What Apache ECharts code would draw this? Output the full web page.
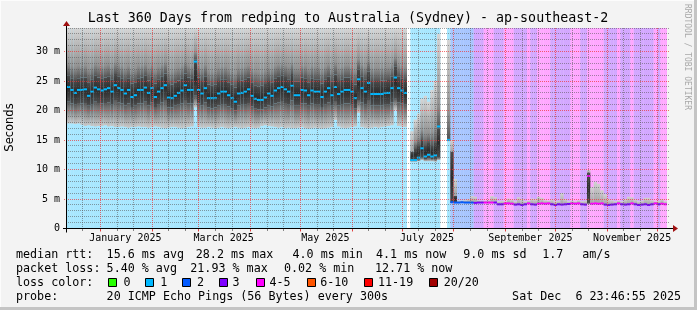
<!DOCTYPE html>
<html><head><meta charset="utf-8">
<script src="https://cdn.jsdelivr.net/npm/echarts@6/dist/echarts.min.js"></script>
<style>html,body{margin:0;padding:0;background:#f3f3f3}#c{width:697px;height:310px}</style>
</head><body><div id="c"></div>
<script>
// ================= DATA =================
// 180 bins of 2 days each, covering the 360 days ending Sat Dec 6 23:46:55 2025
const binLabels = Array.from({length: 180}, (_, i) => 'bin' + i);

// median RTT per bin (ms); null = no data
const medianRtt = [
24.0,23.5,23.0,23.5,23.5, 23.6,22.5,23.2,23.9,23.6, 23.4,23.6,23.8,23.2,24.3, 23.8,23.5,22.9,23.5,22.3,
22.6,23.5,23.5,23.9,23.0, 23.8,22.3,23.2,23.8,24.3, 22.2,22.1,22.5,23.0,23.4, 24.3,23.5,23.5,28.3,23.5,
22.9,23.8,22.1,22.1,22.1, 22.9,23.2,23.2,22.6,22.1, 21.5,22.9,23.0,23.2,23.6, 22.5,22.0,21.8,21.8,22.2,
22.9,22.5,23.4,23.8,24.0, 23.6,23.2,24.2,22.6,22.6, 23.5,23.4,22.6,23.4,23.2, 23.2,22.3,23.2,23.8,22.6,
24.0,22.8,23.2,23.5,23.5, 23.2,22.1,25.3,23.8,23.2, 24.7,22.8,22.8,22.8,22.8, 23.0,23.0,23.8,25.6,23.8,
23.4,23.0,
null,
11.6,11.6,12.0,13.6,12.2,12.5,12.2,12.4,17.3,
null,null,
15.0,
4.45,4.4,4.4,4.45,4.4, 4.4,4.4,4.35,4.4,4.4, 4.4,4.4,4.4,4.4,
4.1,4.1,4.25,4.25,4.2, 4.05,4.1,4.0,4.1,4.25, 4.1,4.05,4.2,4.25,4.2, 4.25,4.1,4.0,4.1,4.05,
4.1,4.15,4.25,4.2,4.25, 4.1,4.05,8.9,4.2,4.25, 4.2,4.25,4.05,4.0,4.05, 4.1,4.25,4.1,4.05,4.1,
4.25,4.1,4.0,4.05,4.1, 4.0,4.1,4.25,4.1,4.2, 4.1
];

// lost pings (of 20) per bin; 4 = "4-5" class; null = no data
const lossCount = [
1,1,1,1,1,1,1,1,1,1, 1,1,1,1,1,1,1,1,1,1, 1,1,1,1,1,1,1,1,1,1, 1,1,1,1,1,1,1,1,1,1,
1,1,1,1,1,1,1,1,1,1, 1,1,1,1,1,1,1,1,1,1, 1,1,1,1,1,1,1,1,1,1, 1,1,1,1,1,1,1,1,1,1,
1,1,1,1,1,1,1,1,1,1, 1,1,1,1,1,1,1,1,1,1, 1,1,
null,
1,1,1,1,1,1,1,1,1,
null,null,
1,
2,2,2,2,2,2,2, 3,3,3, 4,4,4, 3,3,3, 4,4,4, 3,3,3,3, 4, 3,3, 4,4,4,4, 3,3,3,3,3,3,
4,4,4, 3,3, 4,4,4,4,4, 3,3,3,3, 4, 3,3,3, 4, 3,3,3,3,3,3, 4, 3, 4,4
];

// smoke (spread of the 20 pings) per bin: bottom, lower dark edge, upper dark edge, top (ms)
const smokeMin = [
17.8,17.8,17.7,17.8,17.6, 17.4,17.5,17.4,17.3,17.4, 17.4,17.5,17.3,17.4,17.2, 17.2,17.3,17.2,17.1,17.2,
17.2,17.3,17.2,17.2,17.1, 17.2,17.3,17.2,17.1,17.0, 17.1,17.2,17.2,17.1,17.0, 17.1,17.2,17.3,20.5,17.2,
17.1,17.1,17.2,17.1,17.0, 17.1,17.2,17.1,17.0,17.1, 17.2,17.1,17.0,17.1,17.2, 17.1,17.0,17.1,17.4,17.5,
17.4,17.3,17.2,17.1,17.2, 17.0,17.1,17.0,17.0,17.1, 17.2,17.0,16.9,17.0,17.1, 17.0,16.9,17.0,17.1,17.2,
18.4,17.3,17.1,17.0,17.1, 17.2,17.3,19.6,17.2,17.1, 17.0,17.1,17.2,17.1,17.2, 17.3,17.4,17.5,20.1,17.4,
17.3,17.2,
null,
11.3,11.3,11.4,11.6,11.4,11.4,11.4,11.3,11.6,
null,null,
14.8,
4.3,4.3,4.3,4.35,4.3, 4.3,4.3,4.25,4.3,4.3, 4.3,4.3,4.3,4.3,
4.0,4.0,4.15,4.15,4.1, 3.95,4.0,3.9,4.0,4.15, 4.0,3.95,4.1,4.15,4.1, 4.15,4.0,3.9,4.0,3.95,
4.0,4.05,4.15,4.1,4.15, 4.0,3.95,4.1,4.1,4.15, 4.1,4.15,3.95,3.9,3.95, 4.0,4.15,4.0,3.95,4.0,
4.15,4.0,3.9,3.95,4.0, 3.9,4.0,4.15,4.0,4.1, 4.0
];
const smokeLo = [
21.5,21.2,21.0,21.3,21.2, 21.3,20.8,21.0,21.5,21.3, 21.2,21.3,21.4,21.0,21.8, 21.4,21.2,20.9,21.2,20.6,
20.8,21.2,21.2,21.5,20.9, 21.4,20.6,21.0,21.4,21.8, 20.5,20.5,20.8,21.0,21.2, 21.8,21.2,21.2,22.5,21.2,
20.9,21.4,20.5,20.4,20.5, 20.9,21.0,21.0,20.7,20.4, 20.0,20.9,21.0,21.0,21.3, 20.7,20.3,20.2,20.2,20.5,
20.9,20.7,21.2,21.4,21.6, 21.3,21.0,21.7,20.8,20.8, 21.2,21.2,20.8,21.2,21.0, 21.0,20.6,21.0,21.4,20.8,
21.6,20.9,21.0,21.2,21.2, 21.0,20.4,21.8,21.4,21.0, 21.8,20.9,20.9,20.9,20.9, 21.0,21.0,21.4,22.0,21.4,
21.2,21.0,
null,
11.5,11.5,11.7,12.0,11.8,11.9,11.8,11.8,12.0,
null,null,
15.0,
4.35,4.4,4.35,4.4,4.35, 4.35,4.35,4.3,4.35,4.35, 4.35,4.35,4.35,4.35,
4.05,4.05,4.2,4.2,4.15, 4.0,4.05,3.95,4.05,4.2, 4.05,4.0,4.15,4.2,4.15, 4.2,4.05,3.95,4.05,4.0,
4.05,4.1,4.2,4.15,4.2, 4.05,4.0,4.3,4.15,4.2, 4.15,4.2,4.0,3.95,4.0, 4.05,4.2,4.05,4.0,4.05,
4.2,4.05,3.95,4.0,4.05, 3.95,4.05,4.2,4.05,4.15, 4.05
];
const smokeHi = [
26.0,25.5,25.2,25.5,25.6, 25.6,24.8,25.3,25.9,25.6, 25.5,25.6,25.8,25.3,26.2, 25.8,25.5,25.0,25.5,24.6,
24.8,25.5,25.6,25.9,25.1, 25.8,24.6,25.3,25.8,26.3, 24.5,24.4,24.8,25.1,25.5, 26.3,25.6,25.5,28.6,25.6,
25.0,25.8,24.4,24.3,24.4, 25.0,25.3,25.3,24.8,24.4, 23.9,25.0,25.1,25.3,25.6, 24.8,24.3,24.1,24.2,24.5,
25.0,24.8,25.5,25.8,26.0, 25.7,25.3,26.2,24.9,24.9, 25.6,25.5,24.8,25.5,25.3, 25.3,24.6,25.3,25.8,24.9,
26.1,25.0,25.3,25.6,25.6, 25.3,24.4,27.0,25.8,25.3, 26.6,25.0,25.0,25.0,25.1, 25.1,25.2,25.8,27.5,25.8,
25.5,25.2,
null,
13.0,13.5,14.0,15.0,14.0,14.5,14.0,14.5,17.0,
null,null,
15.3,
13.0,5.5,4.5,4.55,4.5, 4.5,4.5,4.45,4.5,4.5, 4.5,4.5,4.5,4.5,
4.2,4.2,4.35,4.35,4.3, 4.15,4.2,4.1,4.2,4.35, 4.2,4.15,4.3,4.35,4.3, 4.35,4.2,4.1,4.2,4.15,
4.2,4.25,4.35,4.3,4.35, 4.2,4.15,9.5,4.3,4.35, 4.3,4.35,4.15,4.1,4.15, 4.2,4.35,4.2,4.15,4.2,
4.35,4.2,4.1,4.15,4.2, 4.1,4.2,4.35,4.2,4.3, 4.2
];
const smokeMax = [
36,37,36,35,36, 37,36,36,38,37, 36,35,36,37,36, 36,37,36,35,36,
37,38,36,36,35, 36,37,36,36,37, 35,36,37,36,36, 37,36,36,40,37,
36,35,36,36,37, 36,36,35,36,37, 36,36,37,35,36, 36,37,36,36,35,
36,37,36,36,38, 37,36,36,35,36, 37,36,36,37,35, 36,36,37,36,36,
37,36,35,36,37, 36,36,38,36,36, 37,36,36,35,36, 36,37,36,39,36,
36,37,
null,
16.5,18.5,19.5,22.0,22.5,21.5,23.5,25.0,33.0,
null,null,
32.0,
15.0,8.4,4.7,4.7,4.8, 5.0,5.5,5.4,4.8,4.7, 4.7,4.8,5.5,5.3,
4.6,4.7,4.6,5.1,4.9, 4.6,5.3,5.0,4.6, 4.7,5.1,5.0, 5.4,5.2,4.8,4.7, 4.9,4.6,4.7, 6.0,5.0,4.6,
4.7,4.6,4.8,4.6,4.7, 9.9, 7.0,7.9,7.6,6.5,5.8,5.0, 4.8,4.6,4.7,4.6,5.0,5.4,5.3,
4.9,4.6,4.7,5.2,5.2,4.8, 4.6,4.7,5.0,4.6
];

// axis ticks / labels
const yLabelValues = [0, 5, 10, 15, 20, 25, 30];
const yMinorValues = [1,2,3,4,6,7,8,9,11,12,13,14,16,17,18,19,21,22,23,24,26,27,28,29,31,32,33,34];
const monthLabels = ['January 2025', 'March 2025', 'May 2025', 'July 2025', 'September 2025', 'November 2025'];
const monthLabelMonths = [0, 2, 4, 6, 8, 10]; // month index in 2025

// loss colour legend
const lossClasses = ['0', '1', '2', '3', '4-5', '6-10', '11-19', '20/20'];
const lossClassColors = ['#26ff00', '#00b8ff', '#0059ff', '#7e00ff', '#ff00ff', '#ff5500', '#ff0000', '#a10000'];
const lossCodeColor = {0: '#26ff00', 1: '#00b8ff', 2: '#0059ff', 3: '#7e00ff', 4: '#ff00ff'};

// ================= LAYOUT / BUILD =================
const Y_MAX = 34;
const T0 = Date.UTC(2024, 11, 11, 23, 46, 55);
const dayOf = (y, m, d) => (Date.UTC(y, m, d) - T0) / 864e5;
const monthStarts = [];
for (let m = 0; m < 12; m++) monthStarts.push(dayOf(2025, m, 1));
const minorDays = [dayOf(2024, 11, 21)];
for (let m = 0; m < 11; m++) { minorDays.push(dayOf(2025, m, 11)); minorDays.push(dayOf(2025, m, 21)); }
const minorUniq = minorDays.filter(d => d > 0 && d < 360);
const labelCenters = monthLabelMonths.map(m => dayOf(2025, m, 1) + 15);

const MONO = 'DejaVu Sans Mono';
const G = echarts.graphic;
const lowerGrad = new G.LinearGradient(0, 1, 0, 0, [{offset: 0, color: '#c9c9c9'}, {offset: 1, color: '#5a5a5a'}]);
const coreGrad = new G.LinearGradient(0, 1, 0, 0, [{offset: 0, color: '#4c4c4c'}, {offset: 0.5, color: '#2c2c2c'}, {offset: 1, color: '#4c4c4c'}]);
const upperGradTall = new G.LinearGradient(0, 1, 0, 0, [{offset: 0, color: '#555555'}, {offset: 0.25, color: '#929292'}, {offset: 1, color: '#d6d6d6'}]);
const upperGradShort = new G.LinearGradient(0, 1, 0, 0, [{offset: 0, color: '#a4a4a4'}, {offset: 1, color: '#d2d2d2'}]);

const NA = '-';
const bgData = lossCount.map(l => l == null ? NA : {value: Y_MAX, itemStyle: {color: lossCodeColor[l], opacity: 0.34}});
const sBase = smokeMin.map(v => v == null ? NA : v);
const sLow = smokeMin.map((v, i) => v == null ? NA : +(smokeLo[i] - v).toFixed(3));
const sCore = smokeLo.map((v, i) => v == null ? NA : +(smokeHi[i] - v).toFixed(3));
const sUp = smokeHi.map((v, i) => {
  if (v == null) return NA;
  const span = smokeMax[i] - v;
  return {value: +span.toFixed(3), itemStyle: {color: span < 4 ? upperGradShort : upperGradTall}};
});
const DOT = 0.34;
const mBase = medianRtt.map(v => v == null ? NA : +(v - DOT / 2).toFixed(3));
const mDot = medianRtt.map((v, i) => v == null ? NA : {value: DOT, itemStyle: {color: lossCodeColor[lossCount[i]]}});

const barCommon = {type: 'bar', xAxisIndex: 2, yAxisIndex: 0, barGap: '-100%', barCategoryGap: '0%', silent: true, animation: false, clip: true};
const series = [
  Object.assign({}, barCommon, {name: 'bg', data: bgData}),
  Object.assign({}, barCommon, {name: 'sBase', stack: 's', data: sBase, itemStyle: {color: 'rgba(0,0,0,0)'}}),
  Object.assign({}, barCommon, {name: 'sLow', stack: 's', data: sLow, itemStyle: {color: lowerGrad}}),
  Object.assign({}, barCommon, {name: 'sCore', stack: 's', data: sCore, itemStyle: {color: coreGrad}}),
  Object.assign({}, barCommon, {name: 'sUp', stack: 's', data: sUp}),
  Object.assign({}, barCommon, {name: 'mBase', stack: 'm', data: mBase, itemStyle: {color: 'rgba(0,0,0,0)'}}),
  Object.assign({}, barCommon, {name: 'median', stack: 'm', data: mDot})
];

// static text graphics
const gfx = [];
const txt = (x, y, s, opt) => gfx.push(Object.assign({type: 'text', x, y, silent: true,
  style: Object.assign({text: s, font: '11.7px "' + MONO + '"', fill: '#000', align: 'left', verticalAlign: 'middle'}, opt || {})}));
txt(348, 18.5, 'Last 360 Days from redping to Australia (Sydney) - ap-southeast-2', {font: '13.3px "' + MONO + '"', align: 'center'});
gfx.push({type: 'text', x: 10, y: 127.5, rotation: Math.PI / 2, silent: true,
  style: {text: 'Seconds', font: '11.5px "DejaVu Sans"', fill: '#000', align: 'center', verticalAlign: 'middle'}});
gfx.push({type: 'text', x: 687.5, y: 4, rotation: -Math.PI / 2, silent: true,
  style: {text: 'RRDTOOL / TOBI OETIKER', font: '8px "' + MONO + '"', fill: '#a8a8a8', align: 'left', verticalAlign: 'middle'}});
const L1 = 255, L2 = 269, L3 = 282.5, L4 = 296.5;
[['median rtt:', 16], ['15.6 ms avg', 106.6], ['28.2 ms max', 195.8], ['4.0 ms min', 292.5], ['4.1 ms now', 376],
 ['9.0 ms sd', 463.3], ['1.7', 542.3], ['am/s', 582.3]].forEach(([s, x]) => txt(x, L1, s));
[['packet loss:', 16], ['5.40 % avg', 106.6], ['21.93 % max', 190.3], ['0.02 % min', 284], ['12.71 % now', 375]].forEach(([s, x]) => txt(x, L2, s));
txt(16, L3, 'loss color:');
const boxX = [108.5, 145.5, 182.5, 219.5, 256.5, 307.5, 364.5, 429.5];
const lblX = [123.6, 160.2, 197, 232.6, 269.5, 320.2, 378, 443.7];
lossClasses.forEach((c, i) => {
  gfx.push({type: 'rect', silent: true, shape: {x: boxX[i], y: L3 - 4, width: 8, height: 8},
    style: {fill: lossClassColors[i], stroke: '#000', lineWidth: 1}});
  txt(lblX[i], L3, c);
});
txt(16, L4, 'probe:');
txt(106.6, L4, '20 ICMP Echo Pings (56 Bytes) every 300s');
txt(681, L4, 'Sat Dec  6 23:46:55 2025', {align: 'right'});
// frame
gfx.push({type: 'line', silent: true, shape: {x1: 0, y1: 0.5, x2: 697, y2: 0.5}, style: {stroke: '#fcfcfc', lineWidth: 1}});
gfx.push({type: 'line', silent: true, shape: {x1: 0.5, y1: 0, x2: 0.5, y2: 310}, style: {stroke: '#fcfcfc', lineWidth: 1}});
gfx.push({type: 'rect', silent: true, shape: {x: 694, y: 0, width: 3, height: 310}, style: {fill: '#c4c4c4'}});
gfx.push({type: 'rect', silent: true, shape: {x: 0, y: 307, width: 697, height: 3}, style: {fill: '#c4c4c4'}});

const option = {
  animation: false,
  backgroundColor: '#f3f3f3',
  grid: {left: 67, right: 30, top: 28, bottom: 81.5, show: true, backgroundColor: '#ffffff', borderWidth: 0, containLabel: false, outerBoundsMode: 'none'},
  xAxis: [
    {type: 'value', min: 0, max: 360, position: 'bottom',
      axisLine: {show: false},
      axisTick: {show: true, customValues: minorUniq, length: 2, lineStyle: {color: '#888'}},
      axisLabel: {show: false}, splitLine: {show: false}},
    {type: 'value', min: 0, max: 360, position: 'bottom',
      axisLine: {show: false},
      axisTick: {show: true, customValues: monthStarts, length: 3, lineStyle: {color: '#d05050'}},
      axisLabel: {show: true, customValues: labelCenters, margin: 5, color: '#000', fontFamily: MONO, fontSize: 10,
        formatter: v => { const k = labelCenters.findIndex(c => Math.abs(c - v) < 0.5); return k < 0 ? '' : monthLabels[k]; }},
      splitLine: {show: false}},
    {type: 'category', data: binLabels, show: false, boundaryGap: true}
  ],
  yAxis: [
    {type: 'value', min: 0, max: Y_MAX, interval: 1, position: 'left',
      axisLine: {show: false}, axisLabel: {show: false}, splitLine: {show: false},
      axisTick: {show: false}},
    {type: 'value', min: 0, max: Y_MAX, interval: 5, position: 'left',
      axisLine: {show: false}, axisTick: {show: false}, splitLine: {show: false},
      axisLabel: {show: true, customValues: yLabelValues, margin: 7, color: '#000', fontFamily: MONO, fontSize: 10,
        formatter: v => v === 0 ? '0' : v + ' m'}}
  ],
  series: series,
  graphic: gfx
};
const chart = echarts.init(document.getElementById('c'), null, {renderer: 'canvas'});
chart.setOption(option);

// grid lines drawn on top of the data (as rrdtool does), positions from the axis scales
function dotPattern(col, horizontal) {
  const c = document.createElement('canvas');
  c.width = horizontal ? 2 : 1; c.height = horizontal ? 1 : 2;
  const ctx = c.getContext('2d'); ctx.fillStyle = col; ctx.fillRect(0, 0, 1, 1);
  return {type: 'pattern', image: c, repeat: 'repeat'};
}
const minorCol = 'rgba(85,85,85,0.55)', majorCol = 'rgba(240,50,50,0.7)';
const patMinH = dotPattern(minorCol, true), patMinV = dotPattern(minorCol, false);
const patMajH = dotPattern(majorCol, true), patMajV = dotPattern(majorCol, false);
const overlay = [];
const yTop = chart.convertToPixel({yAxisIndex: 0}, Y_MAX), yBot = chart.convertToPixel({yAxisIndex: 0}, 0);
const xL = chart.convertToPixel({xAxisIndex: 0}, 0), xR = chart.convertToPixel({xAxisIndex: 0}, 360);
const hLine = (v, pat, ext) => { const y = Math.floor(chart.convertToPixel({yAxisIndex: 0}, v));
  overlay.push({type: 'rect', silent: true, z: 5, shape: {x: Math.round(xL) - ext, y: y, width: Math.round(xR - xL) + 2 * ext, height: 1}, style: {fill: pat}}); };
const vLine = (d, pat, ext) => { const x = Math.floor(chart.convertToPixel({xAxisIndex: 0}, d));
  overlay.push({type: 'rect', silent: true, z: 5, shape: {x: x, y: Math.round(yTop), width: 1, height: Math.round(yBot - yTop) + ext}, style: {fill: pat}}); };
yMinorValues.forEach(v => hLine(v, patMinH, 2));
yLabelValues.filter(v => v > 0).forEach(v => hLine(v, patMajH, 3));
minorUniq.forEach(d => vLine(d, patMinV, 2));
monthStarts.forEach(d => vLine(d, patMajV, 3));
// axes with arrows
const yAx = Math.floor(yBot) + 0.5;
overlay.push({type: 'line', silent: true, z: 10, shape: {x1: xL - 4, y1: yAx, x2: xR + 6, y2: yAx}, style: {stroke: '#000', lineWidth: 1}});
overlay.push({type: 'polygon', silent: true, z: 10, shape: {points: [[xR + 6, yAx - 3.5], [xR + 11, yAx], [xR + 6, yAx + 3.5]]}, style: {fill: '#a01010'}});
overlay.push({type: 'line', silent: true, z: 10, shape: {x1: xL - 0.5, y1: yBot + 4, x2: xL - 0.5, y2: yTop - 2}, style: {stroke: '#000', lineWidth: 1}});
overlay.push({type: 'polygon', silent: true, z: 10, shape: {points: [[xL - 4, yTop - 2], [xL - 0.5, yTop - 7], [xL + 3, yTop - 2]]}, style: {fill: '#a01010'}});
chart.setOption({graphic: gfx.concat(overlay)});
</script></body></html>
